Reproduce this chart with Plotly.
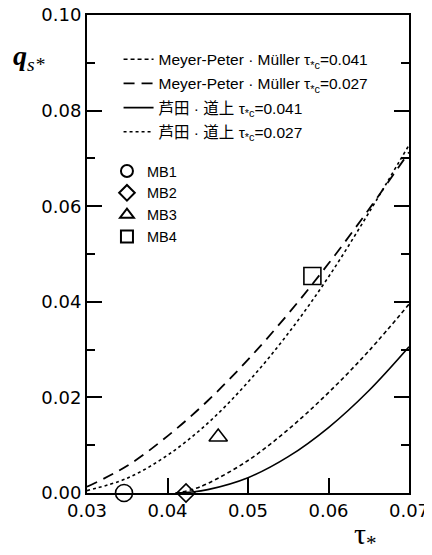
import plotly.graph_objects as go

# Curve values (tau*, q_s*)
mpm041_x = [0.041, 0.043, 0.045, 0.050, 0.055, 0.060, 0.065, 0.070]
mpm041_y = [0.0, 0.0007, 0.0020, 0.0068, 0.0133, 0.0210, 0.0297, 0.0395]

mpm027_x = [0.030, 0.035, 0.040, 0.045, 0.050, 0.055, 0.060, 0.065, 0.070]
mpm027_y = [0.0013, 0.0057, 0.0119, 0.0193, 0.0279, 0.0375, 0.0480, 0.0593, 0.0713]

ash041_x = [0.041, 0.043, 0.045, 0.050, 0.055, 0.060, 0.065, 0.070]
ash041_y = [0.0, 0.0002, 0.0007, 0.0032, 0.0076, 0.0137, 0.0214, 0.0306]

ash027_x = [0.030, 0.035, 0.040, 0.045, 0.050, 0.055, 0.060, 0.065, 0.070]
ash027_y = [0.0005, 0.0031, 0.0079, 0.0146, 0.0232, 0.0334, 0.0452, 0.0586, 0.0728]

# Experimental points
mb_names = ["MB1", "MB2", "MB3", "MB4"]
mb_x = [0.0346, 0.0423, 0.0463, 0.0580]
mb_y = [0.0, 0.0, 0.0117, 0.0454]
mb_symbols = ["circle-open", "diamond-open", "triangle-up-open", "square-open"]
mb_sizes = [17, 14, 16, 17]

y_ticks = [0.00, 0.02, 0.04, 0.06, 0.08, 0.10]
x_ticks = [0.03, 0.04, 0.05, 0.06, 0.07]

fig = go.Figure()

line_specs = [
    (mpm041_x, mpm041_y, "Meyer-Peter · Müller τ<sub>*c</sub>=0.041", "4px,3px", 1.6),
    (mpm027_x, mpm027_y, "Meyer-Peter · Müller τ<sub>*c</sub>=0.027", "11px,7px", 1.8),
    (ash041_x, ash041_y, "芦田 · 道上 τ<sub>*c</sub>=0.041", "solid", 1.6),
    (ash027_x, ash027_y, "芦田 · 道上 τ<sub>*c</sub>=0.027", "dot", 1.6),
]
for i, (xs, ys, name, dash, w) in enumerate(line_specs):
    fig.add_trace(go.Scatter(
        x=xs, y=ys, mode="lines", name=name,
        line=dict(color="black", width=w, dash=dash, shape="spline", smoothing=1.0),
        legend="legend", legendgroup=f"l{i}",
    ))

for i in range(len(mb_names)):
    fig.add_trace(go.Scatter(
        x=[mb_x[i]], y=[mb_y[i]], mode="markers", name=mb_names[i],
        marker=dict(symbol=mb_symbols[i], size=mb_sizes[i], color="black",
                    line=dict(color="black", width=1.6)),
        cliponaxis=False, legend="legend2",
        yaxis="y2",
    ))

axis_font = dict(family="DejaVu Sans, sans-serif", size=18, color="black")
y_common = dict(
    range=[0, 0.10], tickvals=y_ticks,
    ticks="inside", ticklen=15, tickwidth=2, tickcolor="black",
    minor=dict(dtick=0.01, ticks="inside", ticklen=8, tickwidth=2, tickcolor="black"),
    showgrid=False, zeroline=False, automargin=False,
)

fig.update_layout(
    xaxis=dict(
        range=[0.03, 0.07], tickvals=x_ticks, ticktext=[f"{v:.2f}" for v in x_ticks],
        ticks="inside", ticklen=15, tickwidth=2, tickcolor="black",
        showline=True, linewidth=2, linecolor="black", mirror=True,
        showgrid=False, zeroline=False, tickfont=axis_font, automargin=False,
        ticklabeloverflow="allow",
    ),
    yaxis=dict(
        ticktext=[f"{v:.2f}" for v in y_ticks], tickfont=axis_font,
        showline=True, linewidth=2, linecolor="black", mirror=True,
        ticklabeloverflow="allow",
        **y_common,
    ),
    yaxis2=dict(
        overlaying="y", side="right", showticklabels=False,
        showline=True, linewidth=2, linecolor="black",
        **y_common,
    ),
)

leg_font = dict(family="Liberation Sans, Arial, Noto Sans CJK JP, sans-serif", size=15.5, color="black")
leg2_font = dict(family="Liberation Sans, Arial, sans-serif", size=14.5, color="black")
# page has an 8px body margin: figure is shifted by 8px, so size/margins compensate
fig.update_layout(
    width=424, height=547,
    margin=dict(l=79, r=23, t=7, b=62, autoexpand=False),
    paper_bgcolor="white", plot_bgcolor="white",
    legend=dict(x=0.098, y=0.942, xanchor="left", yanchor="top", bgcolor="rgba(0,0,0,0)",
                font=leg_font, traceorder="grouped", tracegroupgap=1),
    legend2=dict(x=0.062, y=0.707, xanchor="left", yanchor="top", bgcolor="rgba(0,0,0,0)",
                 font=leg2_font, traceorder="normal", itemsizing="constant"),
    annotations=[
        dict(text="<b><i>q</i></b><sub><i>s*</i></sub>", xref="paper", yref="paper",
             x=-0.18, y=0.912, xanchor="center", yanchor="middle", showarrow=False,
             font=dict(family="Liberation Serif, DejaVu Serif, serif", size=28, color="black")),
        dict(text="τ<sub>*</sub>", xref="paper", yref="paper",
             x=0.865, y=-0.09, xanchor="center", yanchor="middle", showarrow=False,
             font=dict(family="Liberation Serif, DejaVu Serif, serif", size=30, color="black")),
    ],
)

fig.write_html("out.html")
